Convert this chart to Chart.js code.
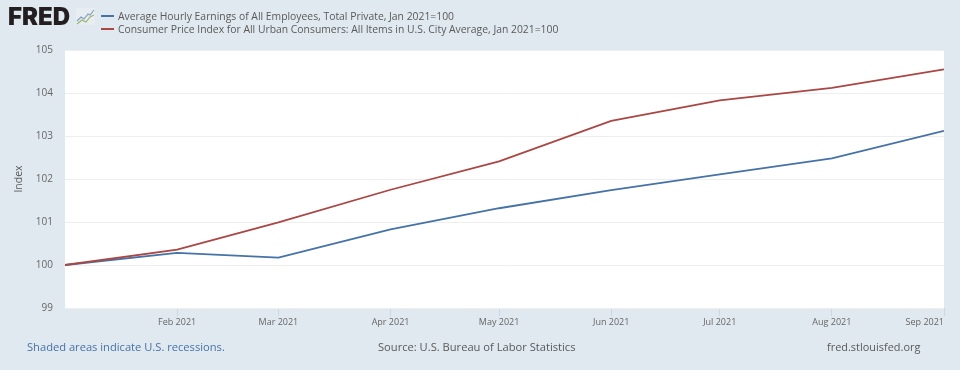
<!DOCTYPE html>
<html>
<head>
<meta charset="utf-8">
<script src="https://cdn.jsdelivr.net/npm/chart.js@4/dist/chart.umd.min.js"></script>
<style>
html, body { margin: 0; padding: 0; background: #e1e9f0; }
#page { position: relative; width: 960px; height: 370px; overflow: hidden; font-family: "Open Sans", sans-serif; }
#chart { position: absolute; left: 0; top: 0; }
.txt { position: absolute; white-space: nowrap; }
#logo { left: 8px; top: 2px; font: 900 24px/30px Inter, sans-serif; color: #231f20; letter-spacing: 0; }
.leg { left: 118px; font-size: 10.36px; line-height: 14px; color: #595959; }
.key { position: absolute; left: 101px; width: 13px; height: 2px; }
.foot { top: 339px; font-size: 11.15px; line-height: 15px; }
</style>
</head>
<body>
<div id="page">
 <canvas id="chart" width="960" height="370"></canvas>
 <div class="txt" id="logo">FRED</div>
 <svg style="position:absolute;left:76px;top:8px" width="19" height="18">
 <rect width="19" height="17" fill="#e8edf1"/>
 <polyline points="1,13 5,9 8,11 12,6 14,7 18,2" fill="none" stroke="#7f9fc4" stroke-width="1.2"/>
 <polyline points="1,16 6,12 10,14 14,9 18,7" fill="none" stroke="#9bb56d" stroke-width="1.2"/>
 </svg>
 <div class="key" style="top:15px;background:#4572a7"></div>
 <div class="key" style="top:28px;background:#aa4643"></div>
 <div class="txt leg" style="top:9px">Average Hourly Earnings of All Employees, Total Private, Jan 2021=100</div>
 <div class="txt leg" style="top:22px">Consumer Price Index for All Urban Consumers: All Items in U.S. City Average, Jan 2021=100</div>
 <div class="txt foot" style="left:27px;color:#4572a7">Shaded areas indicate U.S. recessions.</div>
 <div class="txt foot" style="left:378px;color:#595959">Source: U.S. Bureau of Labor Statistics</div>
 <div class="txt foot" style="left:827px;color:#595959;font-size:10.95px">fred.stlouisfed.org</div>
</div>
<script>
// days since Jan 1 2021, first of each month
var days = [0, 31, 59, 90, 120, 151, 181, 212, 243];
var tickLabels = ['', 'Feb 2021', 'Mar 2021', 'Apr 2021', 'May 2021', 'Jun 2021', 'Jul 2021', 'Aug 2021', 'Sep 2021'];
var earnings = [100, 100.28, 100.17, 100.83, 101.32, 101.74, 102.11, 102.48, 103.12];
var cpi = [100, 100.36, 100.99, 101.75, 102.41, 103.35, 103.83, 104.12, 104.55];
var yTicks = [99, 100, 101, 102, 103, 104, 105];

function points(values) {
 return days.map(function (d, i) { return { x: d, y: values[i] }; });
}

// white plot background behind the gridlines
var plotBackground = {
 id: 'plotBackground',
 beforeDraw: function (chart) {
 var a = chart.chartArea;
 chart.ctx.fillStyle = '#ffffff';
 chart.ctx.fillRect(a.left, a.top, a.right - a.left, a.bottom - a.top);
 }
};

Chart.defaults.font.family = '"Open Sans", sans-serif';

new Chart(document.getElementById('chart'), {
 type: 'line',
 plugins: [plotBackground],
 data: {
 datasets: [
 { label: 'Consumer Price Index', data: points(cpi), borderColor: '#aa4643', borderWidth: 1.8, pointRadius: 0, tension: 0 },
 { label: 'Average Hourly Earnings', data: points(earnings), borderColor: '#4572a7', borderWidth: 1.8, pointRadius: 0, tension: 0 }
 ]
 },
 options: {
 responsive: false,
 animation: false,
 layout: { padding: { left: 0, right: 16, top: 50, bottom: 0 } },
 plugins: { legend: { display: false }, tooltip: { enabled: false } },
 scales: {
 x: {
 type: 'linear',
 min: 0,
 max: 243,
 afterBuildTicks: function (axis) {
 axis.ticks = days.map(function (d) { return { value: d }; });
 },
 afterFit: function (axis) { axis.height = 62; },
 border: { display: false },
 grid: {
 drawOnChartArea: false,
 tickLength: 8,
 color: function (ctx) { return ctx.index === 0 ? 'rgba(0,0,0,0)' : '#ccd6eb'; }
 },
 ticks: {
 align: 'inner',
 autoSkip: false,
 maxRotation: 0,
 padding: 1,
 color: '#666666',
 font: { size: 9 },
 callback: function (value, index) { return tickLabels[index]; }
 }
 },
 y: {
 min: 99,
 max: 105,
 afterBuildTicks: function (axis) {
 axis.ticks = yTicks.map(function (v) { return { value: v }; });
 },
 afterFit: function (axis) { axis.width = 65; },
 border: { display: false },
 grid: { color: '#eeeeee', lineWidth: 1, drawTicks: false },
 title: { display: true, text: 'Index', color: '#595959', font: { size: 10.5 }, padding: { top: 13, bottom: 0 } },
 ticks: { padding: 12, color: '#666666', font: { size: 10 } }
 }
 }
 }
});
</script>
</body>
</html>
